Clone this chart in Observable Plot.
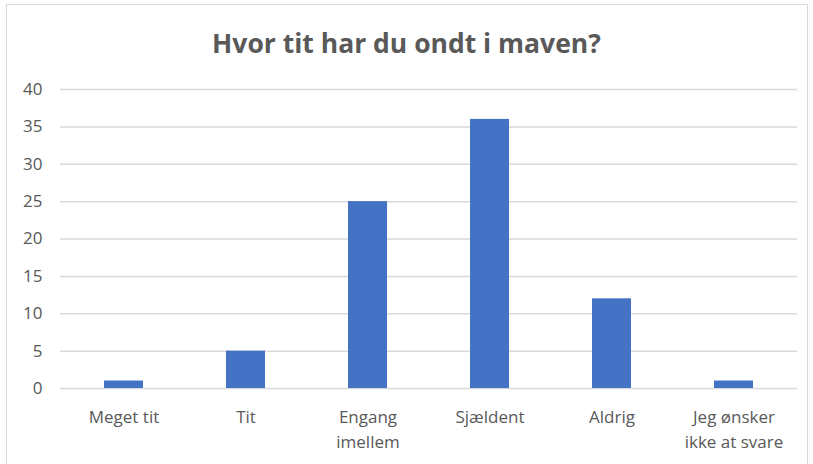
<!DOCTYPE html>
<html>
<head>
<meta charset="utf-8">
<script src="https://cdn.jsdelivr.net/npm/d3@7"></script>
<script src="https://cdn.jsdelivr.net/npm/@observablehq/plot@0.6"></script>
<style>
  html, body { margin: 0; padding: 0; background: #fff; }
  #wrap { position: relative; width: 813px; height: 464px; overflow: hidden; }
  #frame { position: absolute; left: 6px; top: 4px; width: 802px; height: 470px; border: 1px solid #d9d9d9; box-sizing: border-box; }
  #title { position: absolute; left: 0; width: 813px; top: 25px; text-align: center;
           font-family: "Open Sans", sans-serif; font-weight: bold; font-size: 26.5px; color: #595959; }
  #chart { position: absolute; left: 0; top: 0; }
</style>
</head>
<body>
<div id="wrap">
  <div id="frame"></div>
  <div id="chart"></div>
  <div id="title">Hvor tit har du ondt i maven?</div>
</div>
<script>
const categories = ["Meget tit", "Tit", "Engang imellem", "Sjældent", "Aldrig", "Jeg ønsker ikke at svare"];
const tickLabels = ["Meget tit", "Tit", "Engang\nimellem", "Sjældent", "Aldrig", "Jeg ønsker\nikke at svare"];
const values = [1, 5, 25, 36, 12, 1];
const yTicks = [0, 5, 10, 15, 20, 25, 30, 35, 40];

const data = categories.map((c, i) => ({category: c, value: values[i]}));
const labelOf = new Map(categories.map((c, i) => [c, tickLabels[i]]));

const chart = Plot.plot({
  width: 813,
  height: 464,
  marginLeft: 60,
  marginRight: 16,
  marginTop: 89,
  marginBottom: 76,
  style: {fontFamily: "'Open Sans', sans-serif", fontSize: "17px", color: "#595959", background: "transparent"},
  x: {domain: categories, paddingInner: 0.68, paddingOuter: 0.34, label: null},
  y: {domain: [0, 40], label: null},
  marks: [
    Plot.ruleY(yTicks, {stroke: "#d9d9d9", strokeWidth: 1.5}),
    Plot.barY(data, {x: "category", y: "value", fill: "#4472c4"}),
    Plot.axisY({ticks: yTicks, tickSize: 0, tickPadding: 18, fontSize: 17, fill: "#595959"}),
    Plot.axisX({tickSize: 0, tickPadding: 17, fontSize: 17, fill: "#595959", lineHeight: 1.47,
                tickFormat: d => labelOf.get(d)})
  ]
});
document.getElementById("chart").appendChild(chart);
</script>
</body>
</html>
